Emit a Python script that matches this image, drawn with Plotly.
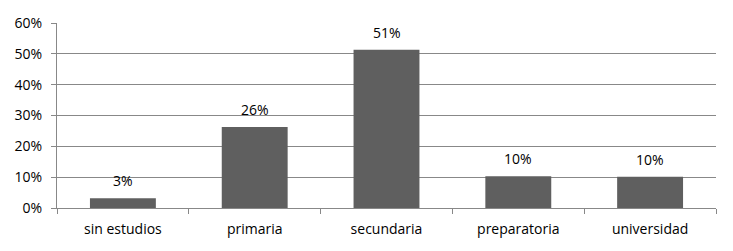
import plotly.graph_objects as go

categories = ["sin estudios", "primaria", "secundaria", "preparatoria", "universidad"]
values = [0.032, 0.263, 0.513, 0.103, 0.101]
y_ticks = [0, 0.1, 0.2, 0.3, 0.4, 0.5, 0.6]
y_tick_labels = ["0%", "10%", "20%", "30%", "40%", "50%", "60%"]

fig = go.Figure(go.Bar(
    x=categories, y=values,
    marker=dict(color="#5f5f5f", line=dict(width=0)),
    width=0.5, hoverinfo="skip",
))

for c, v in zip(categories, values):
    fig.add_annotation(x=c, y=v, text=f"{v:.0%}", showarrow=False,
                       yanchor="bottom", yshift=6,
                       font=dict(size=14, color="#000000"))

fig.update_layout(
    width=733, height=251,
    margin=dict(l=57, r=17, t=23, b=43),
    paper_bgcolor="white", plot_bgcolor="white",
    font=dict(family="Open Sans, sans-serif", size=14, color="#000000"),
    showlegend=False,
    xaxis=dict(
        type="category", showgrid=False, showline=True, linecolor="#888888", linewidth=1,
        ticks="outside", tickson="boundaries", ticklen=5, tickcolor="#888888",
        tickfont=dict(size=14), fixedrange=True, ticklabelstandoff=8,
    ),
    yaxis=dict(
        range=[0, 0.6], tickvals=y_ticks, ticktext=y_tick_labels,
        showgrid=True, gridcolor="#888888", gridwidth=1,
        showline=True, linecolor="#888888", linewidth=1,
        ticks="outside", ticklen=5, tickcolor="#888888",
        tickfont=dict(size=14), zeroline=False, fixedrange=True, ticklabelstandoff=6,
    ),
)

fig.write_html("out.html", config={"displayModeBar": False},
               post_script="document.body.style.margin='0';")
